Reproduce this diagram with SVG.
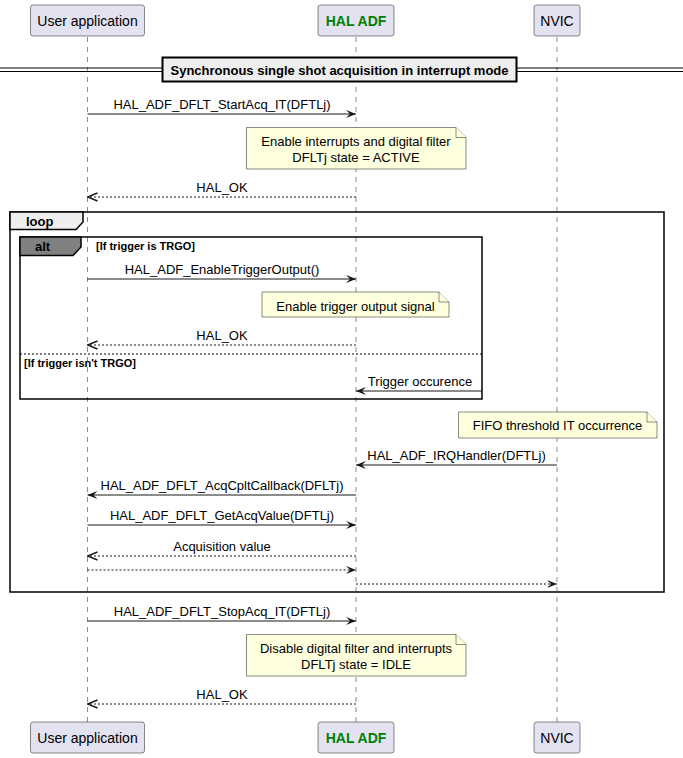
<svg xmlns="http://www.w3.org/2000/svg" width="683" height="758" viewBox="0 0 683 758">
<style>
text{font-family:"Liberation Sans",Arial,sans-serif;fill:#000}
.msg{font-size:13px;text-anchor:middle}
.pt{font-size:14px;text-anchor:middle}
.ptg{font-size:14px;text-anchor:middle;font-weight:bold;fill:#008000}
.box{fill:#E2E2F0;stroke:#181818;stroke-width:0.5}
.life{stroke:#181818;stroke-width:0.5;stroke-dasharray:5,5}
.note{fill:#FEFFDD;stroke:#181818;stroke-width:0.5}
.sol{stroke:#181818;stroke-width:1;fill:none}
.dash{stroke:#181818;stroke-width:1;stroke-dasharray:2,2;fill:none}
.frame{fill:none;stroke:#000;stroke-width:1.5}
.glab{font-size:11px;font-weight:bold}
</style>
<defs>
<marker id="ah" markerWidth="10" markerHeight="8" refX="10" refY="4" orient="auto" markerUnits="userSpaceOnUse"><path d="M0,0 L10,4 L0,8 L4,4 Z" fill="#181818"/></marker>
<marker id="ao" markerWidth="11" markerHeight="10" refX="10" refY="5" orient="auto" markerUnits="userSpaceOnUse"><path d="M0,1 L10,5 L0,9" fill="none" stroke="#181818" stroke-width="1.5"/></marker>
</defs>
<g id="lifelines">
<line class="life" x1="87.5" y1="37" x2="87.5" y2="722"/>
<line class="life" x1="356" y1="37" x2="356" y2="722"/>
<line class="life" x1="557" y1="37" x2="557" y2="722"/>
</g>
<g id="p-user">
<rect class="box" x="30.5" y="5" width="114" height="31" rx="2.5"/>
<text class="pt" x="87.5" y="26">User application</text>
<rect class="box" x="30.5" y="722" width="114" height="31" rx="2.5"/>
<text class="pt" x="87.5" y="743">User application</text>
</g>
<g id="p-hal">
<rect class="box" x="318" y="5" width="76" height="31" rx="2.5"/>
<text class="ptg" x="356" y="26">HAL ADF</text>
<rect class="box" x="318" y="722" width="76" height="31" rx="2.5"/>
<text class="ptg" x="356" y="743">HAL ADF</text>
</g>
<g id="p-nvic">
<rect class="box" x="534" y="5" width="46" height="31" rx="2.5"/>
<text class="pt" x="557" y="26">NVIC</text>
<rect class="box" x="534" y="722" width="46" height="31" rx="2.5"/>
<text class="pt" x="557" y="743">NVIC</text>
</g>
<g id="divider">
<line x1="0" y1="68" x2="683" y2="68" stroke="#000" stroke-width="1"/>
<line x1="0" y1="71.5" x2="683" y2="71.5" stroke="#000" stroke-width="1"/>
<rect x="162.5" y="57.5" width="354" height="24" fill="#EEEEEE" stroke="#000" stroke-width="2"/>
<text x="339.5" y="74.5" font-size="13" font-weight="bold" text-anchor="middle">Synchronous single shot acquisition in interrupt mode</text>
</g>
<g id="loop">
<rect class="frame" x="10" y="212" width="654" height="380"/>
<path d="M10,212 L83,212 L83,222 L76,229.5 L10,229.5 Z" fill="#EEEEEE" stroke="#000" stroke-width="1.5"/>
<text x="26" y="226" font-size="13" font-weight="bold">loop</text>
</g>
<g id="alt">
<rect class="frame" x="20" y="237" width="462" height="162"/>
<path d="M20,237 L81,237 L81,247 L73,255.5 L20,255.5 Z" fill="#808080" stroke="#000" stroke-width="1.5"/>
<text x="35" y="251" font-size="13" font-weight="bold">alt</text>
<text class="glab" x="96" y="250">[If trigger is TRGO]</text>
<line x1="20" y1="354" x2="482" y2="354" stroke="#000" stroke-width="1" stroke-dasharray="2,2"/>
<text class="glab" x="24" y="367">[If trigger isn't TRGO]</text>
</g>
<g id="note1">
<path class="note" d="M246.5,127.5 L456,127.5 L466,137.5 L466,169 L246.5,169 Z"/>
<path class="note" d="M456,127.5 L456,137.5 L466,137.5"/>
<text class="msg" x="356" y="146">Enable interrupts and digital filter</text>
<text class="msg" x="356" y="162">DFLTj state = ACTIVE</text>
</g>
<g id="note2">
<path class="note" d="M262,292 L439,292 L449,302 L449,317 L262,317 Z"/>
<path class="note" d="M439,292 L439,302 L449,302"/>
<text class="msg" x="355.5" y="311">Enable trigger output signal</text>
</g>
<g id="note3">
<path class="note" d="M458.5,412 L647,412 L657,422 L657,438 L458.5,438 Z"/>
<path class="note" d="M647,412 L647,422 L657,422"/>
<text class="msg" x="557.5" y="430">FIFO threshold IT occurrence</text>
</g>
<g id="note4">
<path class="note" d="M246.5,634.5 L456,634.5 L466,644.5 L466,676 L246.5,676 Z"/>
<path class="note" d="M456,634.5 L456,644.5 L466,644.5"/>
<text class="msg" x="356" y="653">Disable digital filter and interrupts</text>
<text class="msg" x="356" y="669">DFLTj state = IDLE</text>
</g>
<g id="connectors">
<line class="sol" x1="87.5" y1="114" x2="356" y2="114" marker-end="url(#ah)"/>
<text class="msg" x="222" y="109">HAL_ADF_DFLT_StartAcq_IT(DFTLj)</text>
<line class="dash" x1="356" y1="197" x2="87.5" y2="197" marker-end="url(#ao)"/>
<text class="msg" x="222" y="192">HAL_OK</text>
<line class="sol" x1="87.5" y1="279" x2="356" y2="279" marker-end="url(#ah)"/>
<text class="msg" x="222" y="274">HAL_ADF_EnableTriggerOutput()</text>
<line class="dash" x1="356" y1="345" x2="87.5" y2="345" marker-end="url(#ao)"/>
<text class="msg" x="222" y="340">HAL_OK</text>
<line class="sol" x1="482" y1="391" x2="356" y2="391" marker-end="url(#ah)"/>
<text class="msg" x="420" y="386">Trigger occurence</text>
<line class="sol" x1="557" y1="465" x2="356" y2="465" marker-end="url(#ah)"/>
<text class="msg" x="456.5" y="460">HAL_ADF_IRQHandler(DFTLj)</text>
<line class="sol" x1="356" y1="495" x2="87.5" y2="495" marker-end="url(#ah)"/>
<text class="msg" x="222" y="490">HAL_ADF_DFLT_AcqCpltCallback(DFLTj)</text>
<line class="sol" x1="87.5" y1="525" x2="356" y2="525" marker-end="url(#ah)"/>
<text class="msg" x="222" y="520">HAL_ADF_DFLT_GetAcqValue(DFTLj)</text>
<line class="dash" x1="356" y1="556" x2="87.5" y2="556" marker-end="url(#ao)"/>
<text class="msg" x="222" y="551">Acquisition value</text>
<line class="dash" x1="87.5" y1="570" x2="356" y2="570" marker-end="url(#ah)"/>
<line class="dash" x1="356" y1="584" x2="557" y2="584" marker-end="url(#ah)"/>
<line class="sol" x1="87.5" y1="621" x2="356" y2="621" marker-end="url(#ah)"/>
<text class="msg" x="222" y="616">HAL_ADF_DFLT_StopAcq_IT(DFTLj)</text>
<line class="dash" x1="356" y1="704" x2="87.5" y2="704" marker-end="url(#ao)"/>
<text class="msg" x="222" y="699">HAL_OK</text>
</g>
</svg>
